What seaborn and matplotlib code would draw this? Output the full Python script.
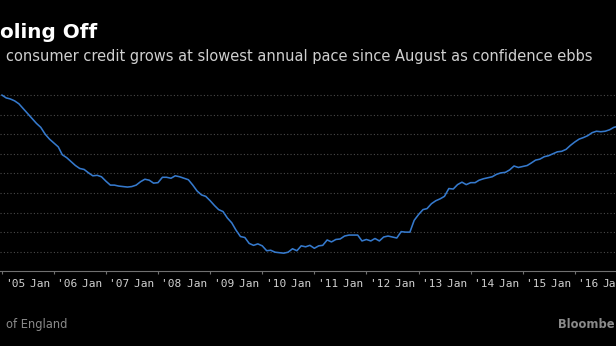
import numpy as np
import pandas as pd
import matplotlib
matplotlib.use("Agg")
import matplotlib.pyplot as plt
import matplotlib.dates as mdates
from matplotlib.ticker import FuncFormatter
import seaborn as sns

# UK consumer credit, annual growth rate (%), monthly from January 2005
start_month = "2005-01-01"
growth = [
    14.0, 13.7, 13.6, 13.4, 13.1, 12.6, 12.1, 11.6, 11.1, 10.7, 10.0, 9.5,
    9.1, 8.7, 7.9, 7.6, 7.2, 6.8, 6.5, 6.4, 6.05, 5.75, 5.8, 5.65,
    5.2, 4.8, 4.8, 4.7, 4.65, 4.6, 4.65, 4.8, 5.15, 5.4, 5.3, 5.0,
    5.05, 5.6, 5.6, 5.5, 5.75, 5.65, 5.5, 5.35, 4.8, 4.2, 3.8, 3.65,
    3.2, 2.7, 2.3, 2.1, 1.45, 0.95, 0.2, -0.45, -0.55, -1.15, -1.35, -1.2,
    -1.4, -1.9, -1.85, -2.05, -2.1, -2.15, -2.05, -1.7, -1.9, -1.4, -1.5, -1.35,
    -1.65, -1.4, -1.35, -0.8, -1.0, -0.75, -0.7, -0.4, -0.3, -0.3, -0.3, -0.9,
    -0.75, -0.9, -0.65, -0.9, -0.5, -0.4, -0.5, -0.6, 0.05, 0.0, 0.0, 1.2,
    1.8, 2.3, 2.4, 2.9, 3.2, 3.4, 3.65, 4.45, 4.4, 4.85, 5.1, 4.85,
    5.05, 5.05, 5.3, 5.45, 5.55, 5.65, 5.9, 6.05, 6.1, 6.35, 6.75, 6.6,
    6.7, 6.8, 7.05, 7.35, 7.45, 7.7, 7.8, 8.0, 8.2, 8.25, 8.45, 8.85,
    9.2, 9.5, 9.65, 9.85, 10.15, 10.3, 10.25, 10.3, 10.45, 10.7, 10.8,
]
title_text = "oling Off"
subtitle_text = "consumer credit grows at slowest annual pace since August as confidence ebbs"
source_text = "of England"
brand_text = "Bloombe"
tick_format = "Jan '%y"
edge_labels = ["'05", "Ja"]
grid_levels = list(range(-2, 15, 2))

df = pd.DataFrame({
    "month": pd.date_range(start_month, periods=len(growth), freq="MS"),
    "growth": growth,
})

sns.set_theme(style="dark")
plt.rcParams["font.family"] = ["DejaVu Sans"]

W, H = 616, 346
fig = plt.figure(figsize=(W / 100, H / 100), dpi=100, facecolor="black")

# plot area in pixels, converted to figure fractions
ax_left_px, ax_right_px = 0.0, 616.0
ax_top_px, ax_bottom_px = 85.2, 271.3
ax = fig.add_axes([
    ax_left_px / W,
    (H - ax_bottom_px) / H,
    (ax_right_px - ax_left_px) / W,
    (ax_bottom_px - ax_top_px) / H,
])
ax.set_facecolor("black")

sns.lineplot(data=df, x="month", y="growth", ax=ax, color="#3579cc",
             linewidth=1.15, legend=False)

# x scale: one year is ~52.1 px, Jan 2005 sits at x=1.8 px
px_per_year = 52.1
jan05_px = 1.8
x0 = mdates.date2num(pd.Timestamp("2005-01-01"))
days_per_px = 365.25 / px_per_year
ax.set_xlim(x0 + (ax_left_px - jan05_px) * days_per_px,
            x0 + (ax_right_px - jan05_px) * days_per_px)
ax.set_ylim(-4, 15)

def year_label(x, pos):
    d = mdates.num2date(x)
    if d.year == 2005:
        return ""
    return d.strftime(tick_format)

ax.xaxis.set_major_locator(mdates.YearLocator())
ax.xaxis.set_major_formatter(FuncFormatter(year_label))
ax.set_yticks(grid_levels)
ax.set_yticklabels([])
ax.tick_params(axis="y", length=0)
tick_len, tick_pad, label_size = 2.3, 3.5, 8
ax.tick_params(axis="x", direction="out", length=tick_len, width=0.8,
               color="#707070", pad=tick_pad, labelsize=label_size,
               labelcolor="#d0d0d0", bottom=True)
for lab in ax.get_xticklabels():
    lab.set_family("DejaVu Sans Mono")

ax.grid(False)
ax.yaxis.grid(True, color="#4a4a4a", linestyle=(0, (1, 2)), linewidth=0.8)
for side in ["left", "right", "top"]:
    ax.spines[side].set_visible(False)
ax.spines["bottom"].set_color("#707070")
ax.spines["bottom"].set_linewidth(0.8)
ax.set_xlabel("")
ax.set_ylabel("")

def px(x, y):
    return x / W, 1 - y / H

# partial year labels at the two edges of the time axis
label_top = ax_bottom_px + (tick_len + tick_pad) * 100 / 72
fig.text(*px(5.2, label_top), edge_labels[0], color="#d0d0d0",
         fontsize=label_size, family="DejaVu Sans Mono", ha="left", va="top")
fig.text(*px(602.5, label_top), edge_labels[1], color="#d0d0d0",
         fontsize=label_size, family="DejaVu Sans Mono", ha="left", va="top")

fig.text(*px(0.5, 38.5), title_text, color="white", fontsize=14.4,
         fontweight="bold", ha="left", va="baseline")
fig.text(*px(6, 60.5), subtitle_text, color="#cfcfcf", fontsize=10.55,
         ha="left", va="baseline")
fig.text(*px(6, 328), source_text, color="#8a8a8a", fontsize=8.3,
         ha="left", va="baseline")
fig.text(*px(558, 328), brand_text, color="#8a8a8a", fontsize=8.3,
         fontweight="bold", ha="left", va="baseline")

fig.savefig("out.png", dpi=100, facecolor="black")
